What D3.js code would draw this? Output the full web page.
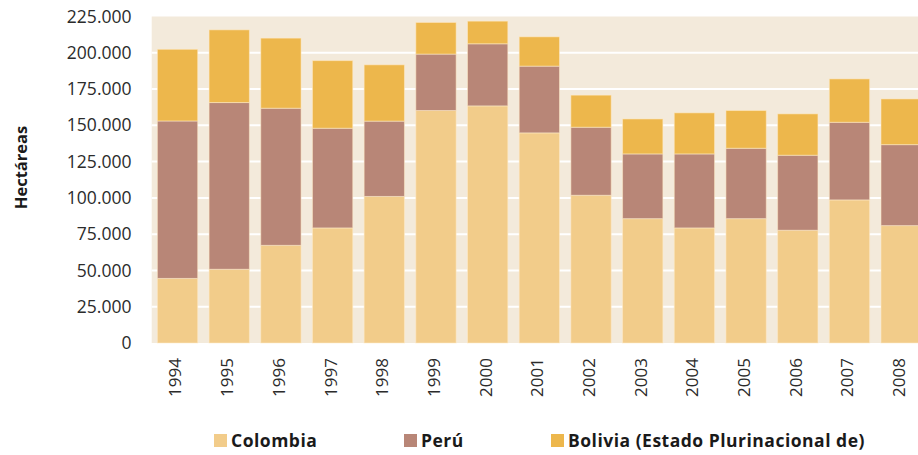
<!DOCTYPE html>
<html>
<head>
<meta charset="utf-8">
<script src="https://cdn.jsdelivr.net/npm/d3@7/dist/d3.min.js"></script>
<style>
  body { margin: 0; background: #fff; }
  svg { display: block; font-family: "Open Sans", sans-serif; }
</style>
</head>
<body>
<svg id="chart" width="918" height="455"></svg>
<script>
// superficie de coca, hectáreas por año
const years = ["1994","1995","1996","1997","1998","1999","2000","2001","2002","2003","2004","2005","2006","2007","2008"];
const colombia = [44500, 50800, 67300, 79300, 101000, 160200, 163400, 144800, 101800, 85700, 79300, 85700, 77700, 98600, 80900];
const peru     = [108500, 114900, 94500, 68700, 51900, 38900, 42800, 46000, 46900, 44600, 51000, 48500, 51700, 53500, 55800];
const bolivia  = [49400, 50100, 48300, 46600, 38800, 21800, 15600, 20200, 22100, 24100, 28300, 26000, 28500, 29900, 31500];
const yTicks = [0, 25000, 50000, 75000, 100000, 125000, 150000, 175000, 200000, 225000];

const seriesNames = ["Colombia", "Perú", "Bolivia (Estado Plurinacional de)"];
const colors = ["#F2CC8A", "#B88677", "#EDB74C"];

const svg = d3.select("#chart");

const margin = {left: 151.7, top: 16.5, bottom: 343};
const plotRight = 927;

const rows = years.map((y, i) => ({year: y, c: colombia[i], p: peru[i], b: bolivia[i]}));
const stacked = d3.stack().keys(["c", "p", "b"])(rows);

const x = d3.scaleBand()
    .domain(years)
    .range([margin.left, plotRight])
    .paddingInner(0.22)
    .paddingOuter(0.11);

const y = d3.scaleLinear()
    .domain([0, 225000])
    .range([margin.bottom, margin.top]);

// fondo
svg.append("rect")
    .attr("x", margin.left)
    .attr("y", y(225000))
    .attr("width", plotRight - margin.left)
    .attr("height", y(0) - y(225000))
    .attr("fill", "#F3EADB");

// lineas de la grilla
svg.append("g")
    .selectAll("line")
    .data(yTicks.filter(d => d > 0 && d < 225000))
    .join("line")
    .attr("x1", margin.left)
    .attr("x2", plotRight)
    .attr("y1", d => y(d))
    .attr("y2", d => y(d))
    .attr("stroke", "#fff")
    .attr("stroke-width", 2);

// barras apiladas
svg.append("g")
    .selectAll("g")
    .data(stacked)
    .join("g")
    .attr("fill", (d, i) => colors[i])
    .selectAll("rect")
    .data(d => d)
    .join("rect")
    .attr("x", d => x(d.data.year))
    .attr("y", d => y(d[1]))
    .attr("width", x.bandwidth())
    .attr("height", d => y(d[0]) - y(d[1]))
    .attr("stroke", "rgba(255,235,200,0.55)")
    .attr("stroke-width", 1);

// eje y
const yAxis = d3.axisLeft(y)
    .tickValues(yTicks)
    .tickSize(0)
    .tickPadding(0)
    .tickFormat(d => d === 0 ? "0" : d3.format(",")(d).replace(/,/g, "."));

const yAxisGroup = svg.append("g")
    .attr("transform", "translate(131.5,0)")
    .call(yAxis);
yAxisGroup.select(".domain").remove();
yAxisGroup.selectAll("text")
    .attr("font-size", 17.5)
    .attr("font-family", "Open Sans, sans-serif")
    .attr("fill", "#2b2b2b");

// eje x
const xAxis = d3.axisBottom(x).tickSize(0);
const xAxisGroup = svg.append("g")
    .attr("transform", "translate(0," + y(0) + ")")
    .call(xAxis);
xAxisGroup.select(".domain").remove();
xAxisGroup.selectAll("text")
    .attr("font-size", 17)
    .attr("font-family", "Open Sans, sans-serif")
    .attr("fill", "#2b2b2b")
    .attr("text-anchor", "end")
    .attr("transform", "rotate(-90)")
    .attr("x", -15)
    .attr("y", -2)
    .attr("dy", "0.35em");

// titulo del eje y
svg.append("text")
    .attr("text-anchor", "middle")
    .attr("transform", "translate(21.5," + 167.5 + ")rotate(-90)")
    .attr("dy", "0.35em")
    .attr("font-size", 16.5)
    .attr("font-weight", "bold")
    .attr("fill", "#1a1a1a")
    .text("Hectáreas");

// leyenda
const legendX = [214, 404, 551];
const legend = svg.append("g")
    .selectAll("g")
    .data(seriesNames)
    .join("g")
    .attr("transform", (d, i) => "translate(" + legendX[i] + ",434)");

legend.append("rect")
    .attr("width", 13)
    .attr("height", 13)
    .attr("fill", (d, i) => colors[i]);

legend.append("text")
    .attr("x", 17)
    .attr("y", 6.5)
    .attr("dy", "0.35em")
    .attr("font-size", 17.5)
    .attr("letter-spacing", 0.5)
    .attr("font-weight", "bold")
    .attr("fill", "#1a1a1a")
    .text(d => d);
</script>
</body>
</html>
